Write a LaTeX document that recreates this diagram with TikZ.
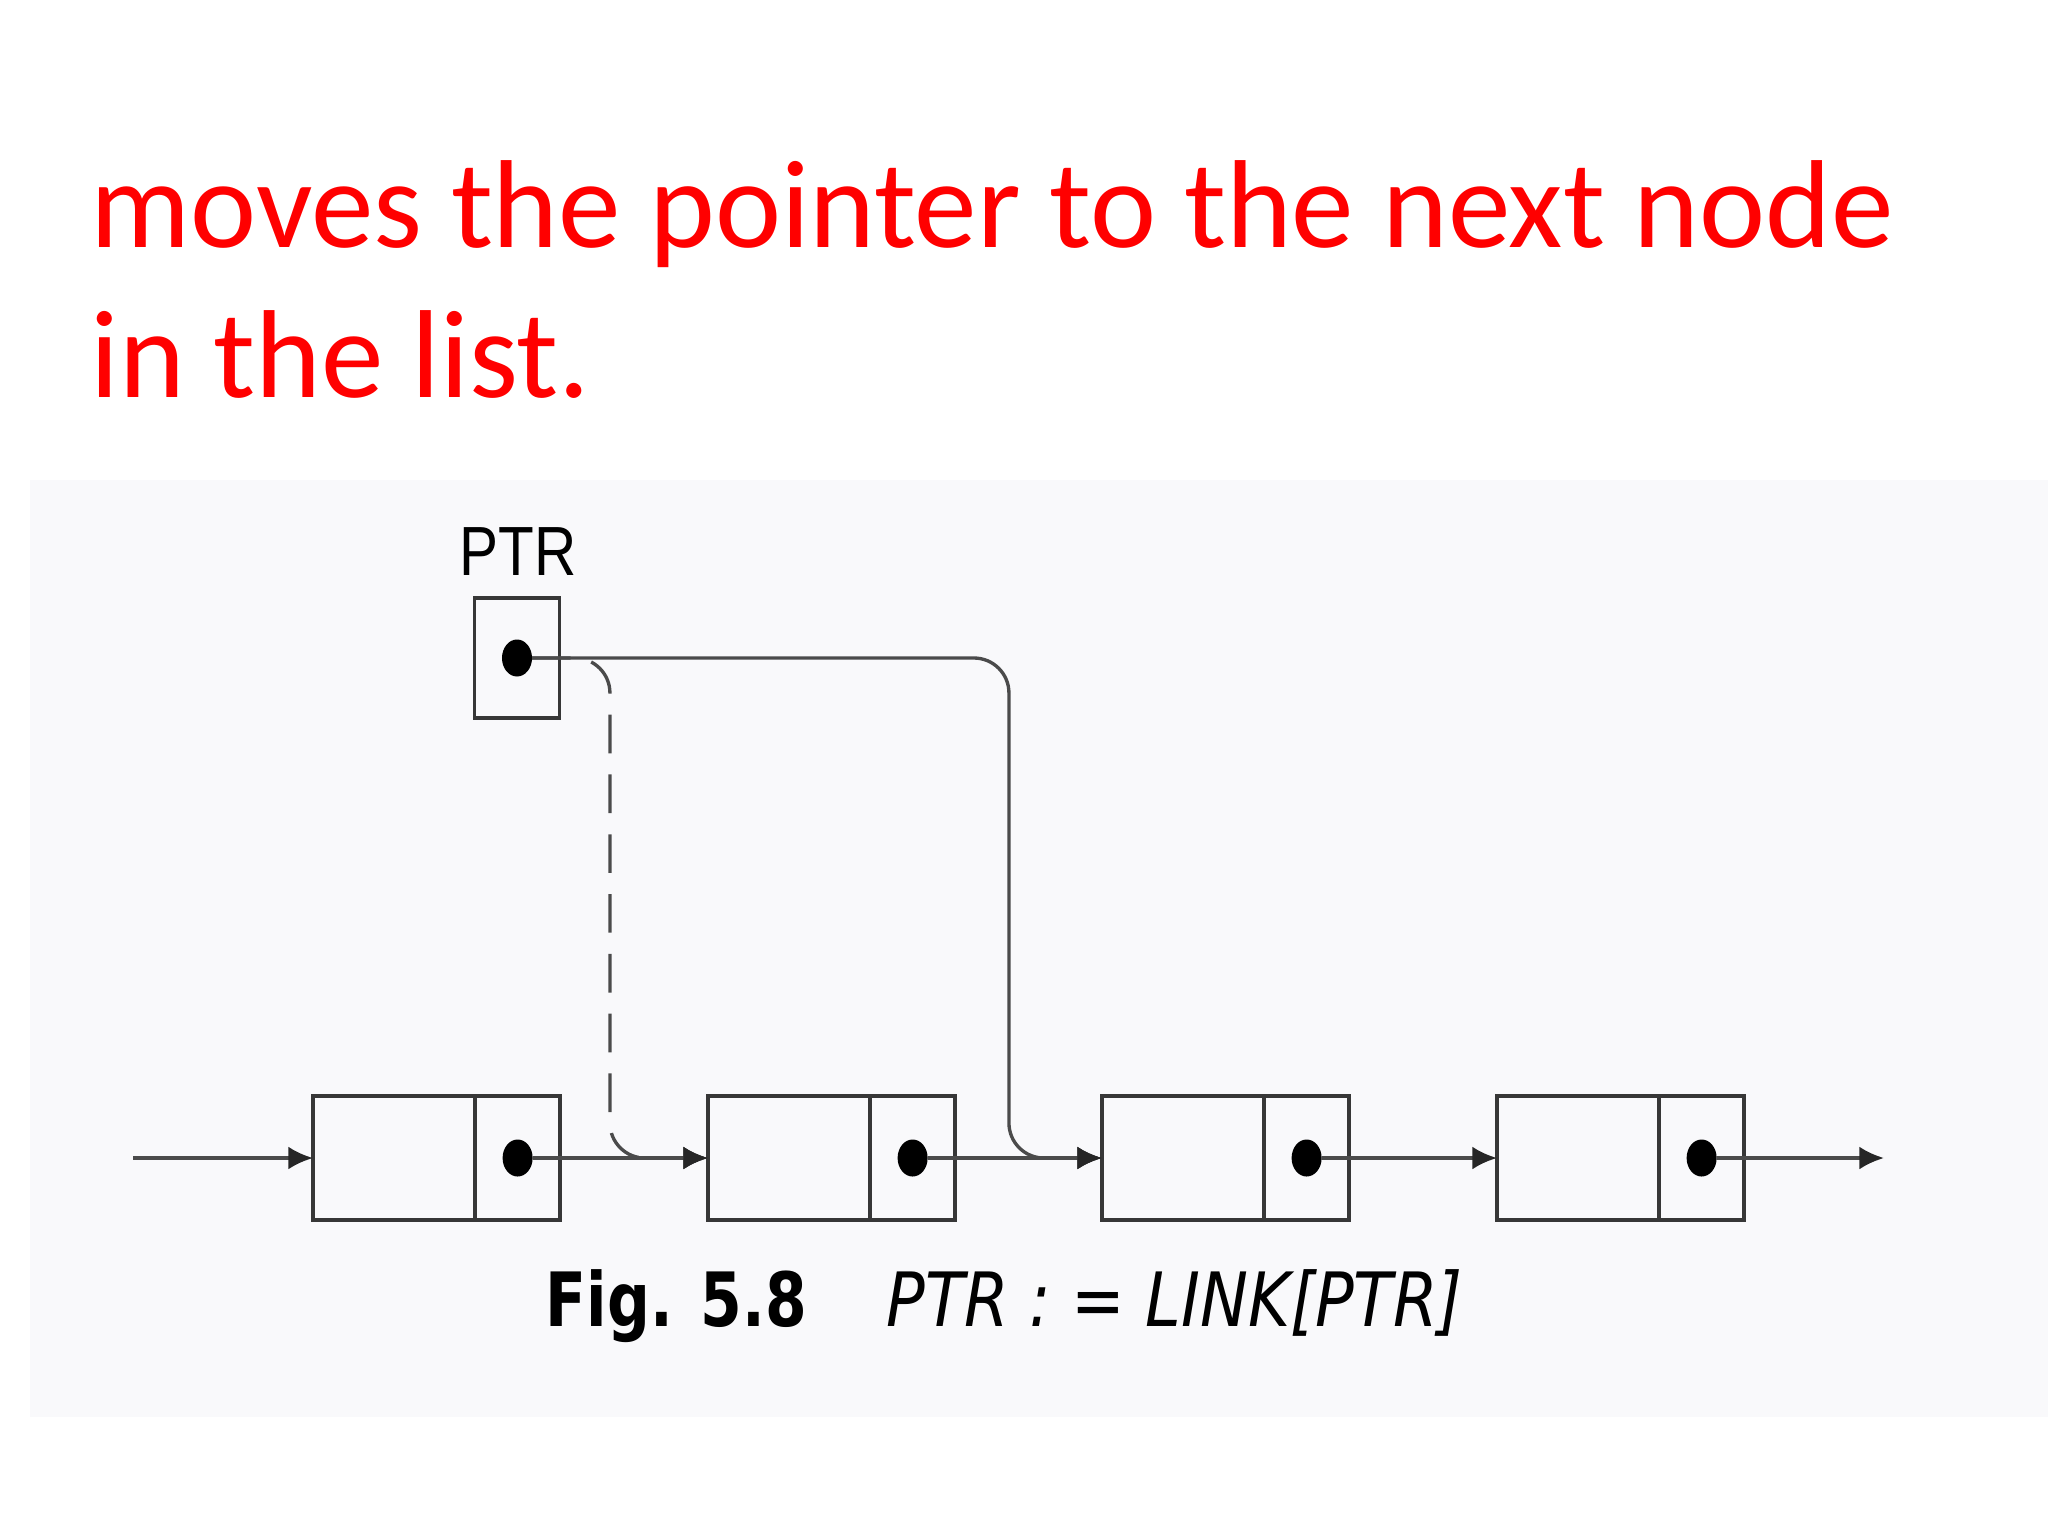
\documentclass[tikz,border=0pt]{standalone}
\usepackage{fontspec}
\usepackage{graphicx}
\setmainfont{Carlito}
\newfontfamily\labfont{Liberation Sans}
\newfontfamily\capfont{DejaVu Sans}
\usetikzlibrary{arrows.meta,shapes.geometric,calc}
\definecolor{panel}{RGB}{249,249,251}
\definecolor{ln}{RGB}{55,55,55}
\definecolor{lk}{RGB}{75,75,75}
\definecolor{redtxt}{RGB}{255,0,0}
\begin{document}
\begin{tikzpicture}[x=0.01cm,y=-0.01cm,
  field/.style={draw=ln,line width=1.1pt,minimum height=1.24cm,inner sep=0,outer sep=0},
  datafield/.style={field,minimum width=1.62cm},
  ptrfield/.style={field,minimum width=0.85cm},
  dot/.style={ellipse,fill=black,minimum width=0.30cm,minimum height=0.37cm,inner sep=0,outer sep=0},
  link/.style={draw=lk,line width=0.95pt,-{Latex[length=7pt,width=6.5pt,color=black!85]}},
  oldlink/.style={link,dash pattern=on 11pt off 6pt},
  title/.style={anchor=base west,inner sep=0,text=redtxt,font=\fontsize{35.6}{42}\selectfont},
]
\useasboundingbox (0,0) rectangle (2048,1536);
\fill[white] (0,0) rectangle (2048,1536);
\fill[panel] (30,480) rectangle (2048,1417);

\node[title] (t1) at (90,247) {moves the pointer to the next node};
\node[title] (t2) at (90,397) {in the list.};

% list nodes
\foreach \i/\x in {1/313,2/708,3/1102,4/1497}{
  \node[datafield,anchor=west] (d\i) at (\x,1158) {};
  \node[ptrfield,anchor=west] (p\i) at (d\i.east) {};
  \node[dot] (dot\i) at (p\i.center) {};
}

% PTR
\node[anchor=base,inner sep=0,font=\labfont\fontsize{19.8}{20}\selectfont] (ptrlabel) at (518,575) {\scalebox{0.84}[1]{PTR}};
\node[field,minimum width=0.85cm,minimum height=1.2cm] (ptrbox) at (517,658) {};
\node[dot] (pdot) at (ptrbox.center) {};

% connectors
\coordinate (start) at (133,1158);
\coordinate (end) at (1884,1158);
\draw[link] (start) -- (d1.west);
\draw[link] (dot1) -- (d2.west);
\draw[link] (dot2) -- (d3.west);
\draw[link] (dot3) -- (d4.west);
\draw[link] (dot4) -- (end);
\draw[oldlink,rounded corners=0.35cm] (pdot) -| ([xshift=-0.98cm]d2.west) -- (d2.west);
\draw[link,rounded corners=0.35cm] (pdot) -| ([xshift=-0.93cm]d3.west) -- (d3.west);

% caption
\node[anchor=base west,inner sep=0,font=\capfont\bfseries\fontsize{21.3}{22}\selectfont] (figno) at (545,1326) {\scalebox{0.8}[1]{Fig. 5.8}};
\node[anchor=base west,inner sep=0,font=\capfont\itshape\fontsize{21.3}{22}\selectfont] (figtxt) at (886,1326) {\scalebox{0.856}[1]{PTR : = LINK[PTR]}};
\end{tikzpicture}
\end{document}
